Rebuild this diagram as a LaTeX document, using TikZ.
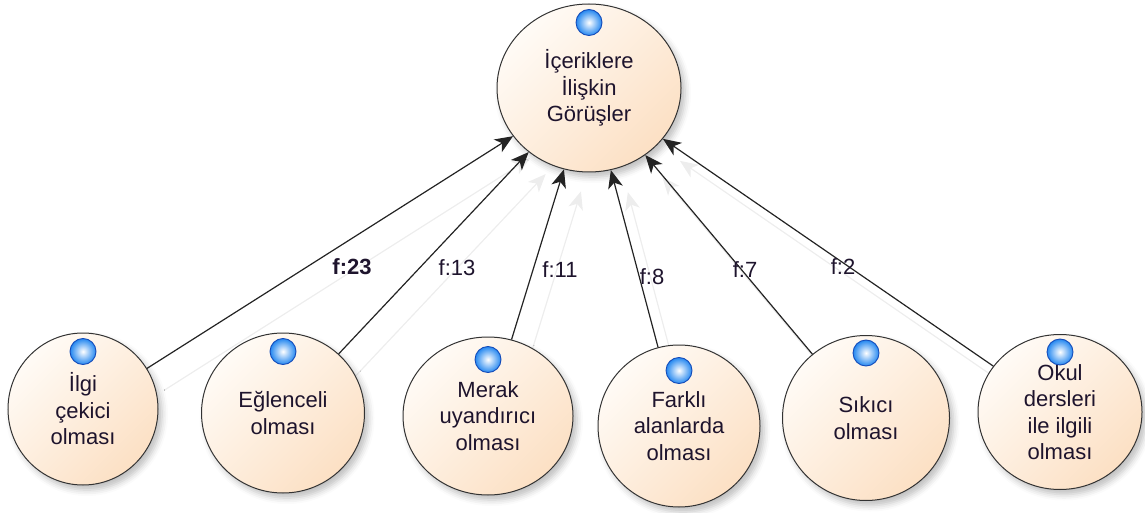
\documentclass[tikz,border=0pt]{standalone}
\usepackage{fontspec}
\setmainfont{Liberation Sans}
\usetikzlibrary{shapes.geometric,arrows.meta,shadows.blur}
\pgfdeclarelayer{bg}
\pgfsetlayers{bg,main}
\definecolor{txt}{RGB}{30,20,45}
\definecolor{peachlo}{RGB}{252,224,196}
\definecolor{peachhi}{RGB}{255,251,246}
\definecolor{edgec}{RGB}{35,35,35}
\definecolor{dotblue}{RGB}{35,135,240}
\definecolor{dotrim}{RGB}{20,75,185}
\tikzset{
  concept/.style={ellipse, draw=black!80, line width=1pt, inner sep=0pt, align=center,
    text=txt, top color=peachhi, bottom color=peachlo, shading angle=45,
    blur shadow={shadow xshift=4pt, shadow yshift=-5pt, shadow blur radius=6pt, shadow opacity=25},
    font=\fontsize{22}{26.5}\selectfont},
  dot/.style={circle, minimum size=26pt, inner sep=0pt, draw=dotrim, line width=0.9pt,
    inner color=white, outer color=dotblue},
  flow/.style={->, draw=edgec, line width=1.2pt},
  ghost/.style={->, draw=black!7, line width=1.2pt, transform canvas={shift={(17pt,-22pt)}}},
  lbl/.style={text=txt, font=\fontsize{22}{26}\selectfont}
}
\begin{document}
\begin{tikzpicture}[x=1pt,y=-1pt,>={Stealth[length=18pt,width=15pt,inset=5pt]}]
\useasboundingbox (0,0) rectangle (1145,513);

% main idea
\node[concept, minimum width=184pt, minimum height=168pt] (top) at (589,88) {İçeriklere\\İlişkin\\Görüşler};

% answers
\node[concept, minimum width=150pt, minimum height=152pt] (ilgi) at (83,409) {İlgi\\çekici\\olması};
\node[concept, minimum width=163pt, minimum height=160pt] (eglence) at (283,413) {Eğlenceli\\olması};
\node[concept, minimum width=170pt, minimum height=158pt] (merak) at (488,416) {Merak\\uyandırıcı\\olması};
\node[concept, minimum width=162pt, minimum height=162pt] (farkli) at (679,426) {Farklı\\alanlarda\\olması};
\node[concept, minimum width=167pt, minimum height=165pt] (sikici) at (866,418) {Sıkıcı\\olması};
\node[concept, minimum width=164pt, minimum height=155pt] (okul) at (1060,412) {Okul\\dersleri\\ile ilgili\\olması};

\foreach \n in {ilgi,eglence,merak,farkli,sikici,okul}
{
    \begin{pgfonlayer}{bg}
    \draw[ghost] (\n)--(top);
    \end{pgfonlayer}
    \draw[flow] (\n)--(top);
}

\foreach \n/\d in {top/19,ilgi/19,eglence/19,merak/23,farkli/26,sikici/18,okul/18}
    \node[dot] (\n-dot) at ([yshift=-\d pt]\n.north) {};

\node[lbl] (f-ilgi) at (352,267) {\textbf{f:23}};
\node[lbl] (f-eglence) at (457,268) {f:13};
\node[lbl] (f-merak) at (560,270) {f:11};
\node[lbl] (f-farkli) at (652,277) {f:8};
\node[lbl] (f-sikici) at (745,270) {f:7};
\node[lbl] (f-okul) at (843,267) {f:2};

\end{tikzpicture}
\end{document}
